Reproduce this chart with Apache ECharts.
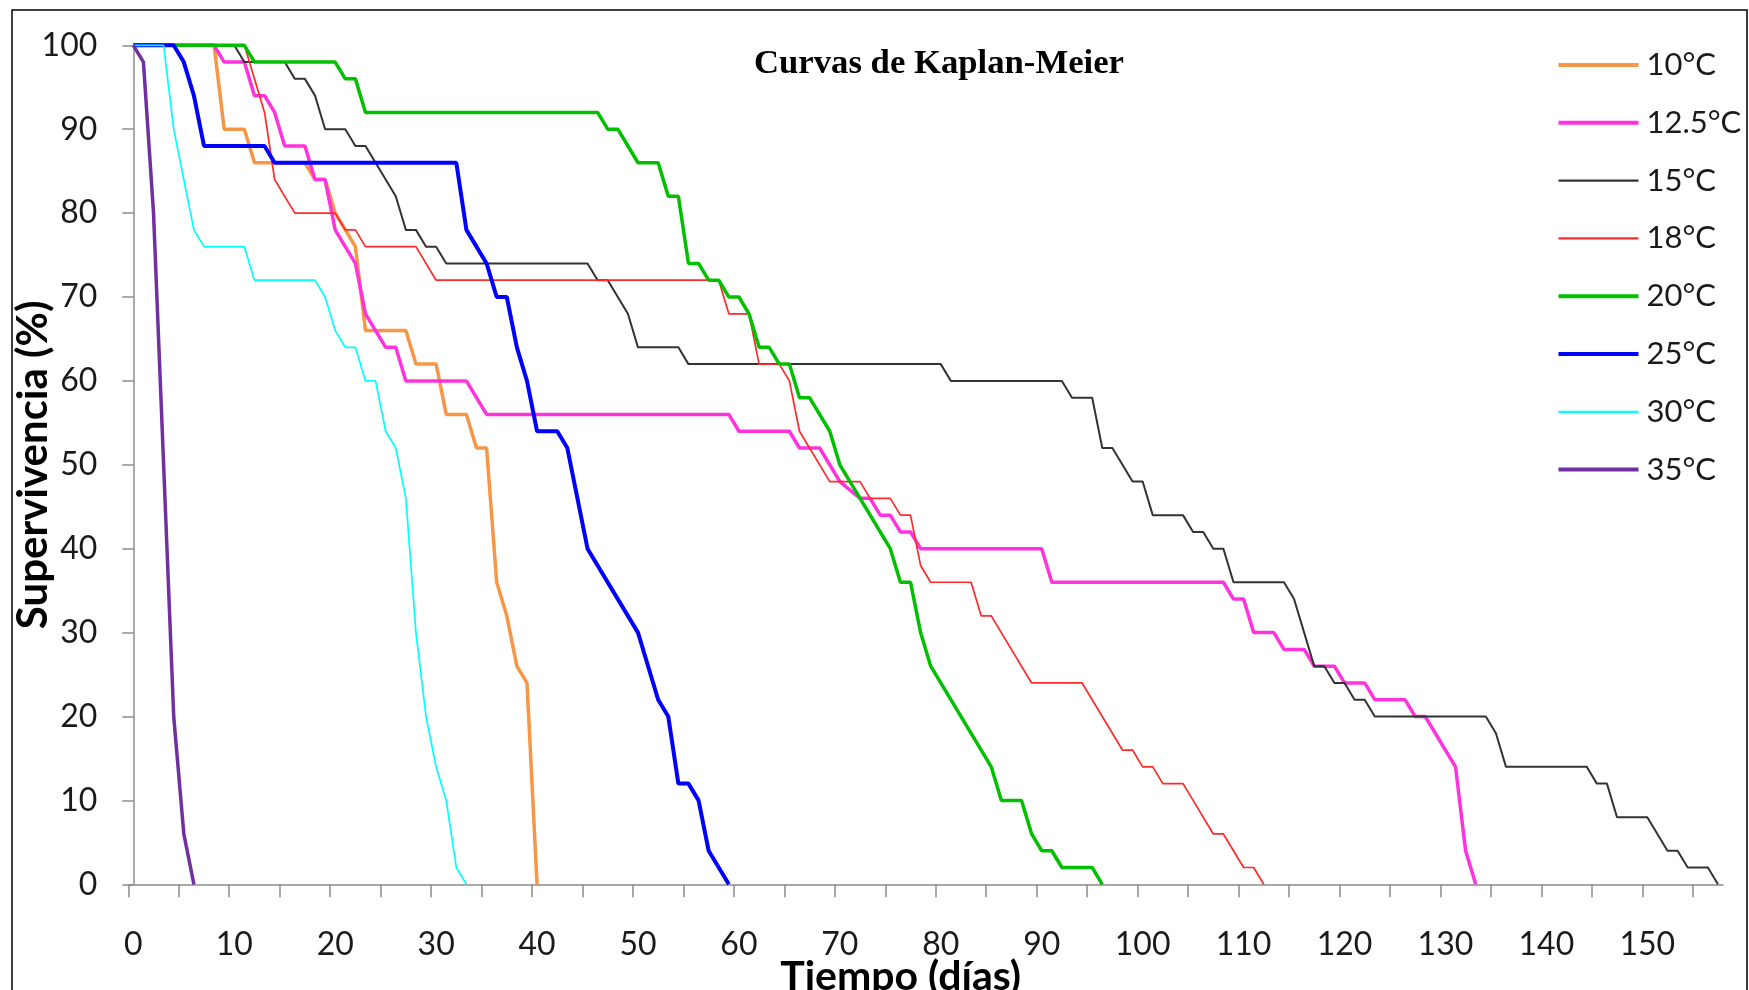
<!DOCTYPE html>
<html><head><meta charset="utf-8">
<script src="https://cdn.jsdelivr.net/npm/echarts@6/dist/echarts.min.js"></script>
<style>html,body{margin:0;padding:0;background:#fff}#c{width:1749px;height:990px}</style>
</head><body><div id="c"></div>
<script>
const seriesNames = ['10°C', '12.5°C', '15°C', '18°C', '20°C', '25°C', '30°C', '35°C'];

// [day, survival %] at the corners of each curve
const s10 = [[0,100],[8,100],[9,90],[11,90],[12,86],[17,86],[18,84],[19,84],[20,80],[21,78],[22,76],[23,66],[27,66],[28,62],[30,62],[31,56],[33,56],[34,52],[35,52],[36,36],[37,32],[38,26],[39,24],[40,0]];
const s125 = [[0,100],[8,100],[9,98],[11,98],[12,94],[13,94],[14,92],[15,88],[17,88],[18,84],[19,84],[20,78],[21,76],[22,74],[23,68],[24,66],[25,64],[26,64],[27,60],[33,60],[35,56],[59,56],[60,54],[65,54],[66,52],[68,52],[70,48],[72,46],[73,46],[74,44],[75,44],[76,42],[77,42],[78,40],[90,40],[91,36],[108,36],[109,34],[110,34],[111,30],[113,30],[114,28],[116,28],[117,26],[119,26],[120,24],[122,24],[123,22],[126,22],[127,20],[128,20],[131,14],[132,4],[133,0]];
const s15 = [[0,100],[10,100],[11,98],[15,98],[16,96],[17,96],[18,94],[19,90],[21,90],[22,88],[23,88],[24,86],[25,84],[26,82],[27,78],[28,78],[29,76],[30,76],[31,74],[45,74],[46,72],[47,72],[48,70],[49,68],[50,64],[54,64],[55,62],[80,62],[81,60],[92,60],[93,58],[95,58],[96,52],[97,52],[99,48],[100,48],[101,44],[104,44],[105,42],[106,42],[107,40],[108,40],[109,36],[114,36],[115,34],[117,26],[118,26],[119,24],[120,24],[121,22],[122,22],[123,20],[134,20],[135,18],[136,14],[144,14],[145,12],[146,12],[147,8],[150,8],[152,4],[153,4],[154,2],[156,2],[157,0]];
const s18 = [[0,100],[11,100],[12,96],[13,92],[14,84],[15,82],[16,80],[20,80],[21,78],[22,78],[23,76],[28,76],[30,72],[58,72],[59,68],[61,68],[62,62],[64,62],[65,60],[66,54],[67,52],[69,48],[72,48],[73,46],[75,46],[76,44],[77,44],[78,38],[79,36],[83,36],[84,32],[85,32],[89,24],[94,24],[98,16],[99,16],[100,14],[101,14],[102,12],[104,12],[105,10],[107,6],[108,6],[110,2],[111,2],[112,0]];
const s20 = [[0,100],[11,100],[12,98],[20,98],[21,96],[22,96],[23,92],[46,92],[47,90],[48,90],[50,86],[52,86],[53,82],[54,82],[55,74],[56,74],[57,72],[58,72],[59,70],[60,70],[61,68],[62,64],[63,64],[64,62],[65,62],[66,58],[67,58],[69,54],[70,50],[75,40],[76,36],[77,36],[78,30],[79,26],[80,24],[85,14],[86,10],[88,10],[89,6],[90,4],[91,4],[92,2],[95,2],[96,0]];
const s25 = [[0,100],[4,100],[5,98],[6,94],[7,88],[13,88],[14,86],[32,86],[33,78],[35,74],[36,70],[37,70],[38,64],[39,60],[40,54],[42,54],[43,52],[44,46],[45,40],[50,30],[52,22],[53,20],[54,12],[55,12],[56,10],[57,4],[59,0]];
const s30 = [[0,100],[3,100],[4,90],[5,84],[6,78],[7,76],[11,76],[12,72],[18,72],[19,70],[20,66],[21,64],[22,64],[23,60],[24,60],[25,54],[26,52],[27,46],[28,30],[29,20],[30,14],[31,10],[32,2],[33,0]];
const s35 = [[0,100],[1,98],[2,80],[3,50],[4,20],[5,6],[6,0]];

const xLabelValues = [0,10,20,30,40,50,60,70,80,90,100,110,120,130,140,150];
const xTickValues = [-0.5,4.5,9.5,14.5,19.5,24.5,29.5,34.5,39.5,44.5,49.5,54.5,59.5,64.5,69.5,74.5,79.5,84.5,89.5,94.5,99.5,104.5,109.5,114.5,119.5,124.5,129.5,134.5,139.5,144.5,149.5,154.5];

const seriesData = [s10, s125, s15, s18, s20, s25, s30, s35];
const colors = ['#F79646', '#FF33DD', '#333333', '#FF2A2A', '#00C000', '#0000FF', '#00FFFF', '#7030A0'];
const widths = [3.5, 3.5, 2, 1.7, 3.5, 4, 1.7, 3.5];

const thickIcon = 'path://M0,0H80V4H0Z';
const thinIcon = 'path://M0,0H80V2.2H0Z';

const chart = echarts.init(document.getElementById('c'), null, {renderer: 'canvas'});
const font = 'Lato, "Open Sans", sans-serif';
chart.setOption({
  animation: false,
  backgroundColor: '#fff',
  title: {
    text: 'Curvas de Kaplan-Meier',
    left: 934, top: 41, textAlign: 'center',
    textStyle: {fontFamily: '"Liberation Serif", "Times New Roman", serif', fontWeight: 'bold', fontSize: 34.7, color: '#000', lineHeight: 37}
  },
  legend: {
    orient: 'vertical', left: 1553.5, top: 44.5,
    itemWidth: 80, itemHeight: 14, itemGap: 26.8, symbolKeepAspect: true,
    data: seriesNames.map((n, i) => ({name: n, icon: widths[i] > 3 ? thickIcon : thinIcon})),
    textStyle: {fontFamily: font, fontSize: 31, color: '#1a1a1a', lineHeight: 30, padding: [0, 0, 0, 3]}
  },
  grid: {left: 128.3, right: 26, top: 45.3, bottom: 105.7, containLabel: false, outerBoundsMode: 'none'},
  xAxis: {
    type: 'value', min: -0.5, max: 157.5,
    name: 'Tiempo (días)', nameLocation: 'middle', nameGap: 72, nameMoveOverlap: false,
    nameTextStyle: {fontFamily: font, fontWeight: 'bold', fontSize: 41, color: '#000', lineHeight: 41, padding: [0, 50, 0, 0]},
    axisLine: {show: true, lineStyle: {color: '#8c8c8c', width: 1.5}},
    axisTick: {show: true, customValues: xTickValues, length: 13, lineStyle: {color: '#8c8c8c', width: 1.5}},
    axisLabel: {customValues: xLabelValues, margin: 44, fontFamily: font, fontSize: 32, color: '#1a1a1a'},
    splitLine: {show: false}
  },
  yAxis: {
    type: 'value', min: 0, max: 100, interval: 10,
    name: 'Supervivencia (%)', nameLocation: 'middle', nameGap: 74, nameRotate: 90, nameMoveOverlap: false,
    nameTextStyle: {fontFamily: font, fontWeight: 'bold', fontSize: 42, color: '#000', lineHeight: 42},
    axisLine: {show: true, lineStyle: {color: '#8c8c8c', width: 1.5}},
    axisTick: {show: true, length: 11, lineStyle: {color: '#8c8c8c', width: 1.5}},
    axisLabel: {margin: 31, fontFamily: font, fontSize: 32, color: '#1a1a1a'},
    splitLine: {show: false}
  },
  graphic: [{
    type: 'rect', silent: true, z: 100,
    shape: {x: 12, y: 10, width: 1735, height: 1010},
    style: {fill: 'none', stroke: '#000', lineWidth: 1.5}
  }],
  series: seriesNames.map((n, i) => ({
    name: n, type: 'line', data: seriesData[i],
    showSymbol: false, symbol: 'none', clip: false,
    color: colors[i],
    lineStyle: {color: colors[i], width: widths[i]},
    emphasis: {disabled: true}
  }))
});
</script></body></html>
